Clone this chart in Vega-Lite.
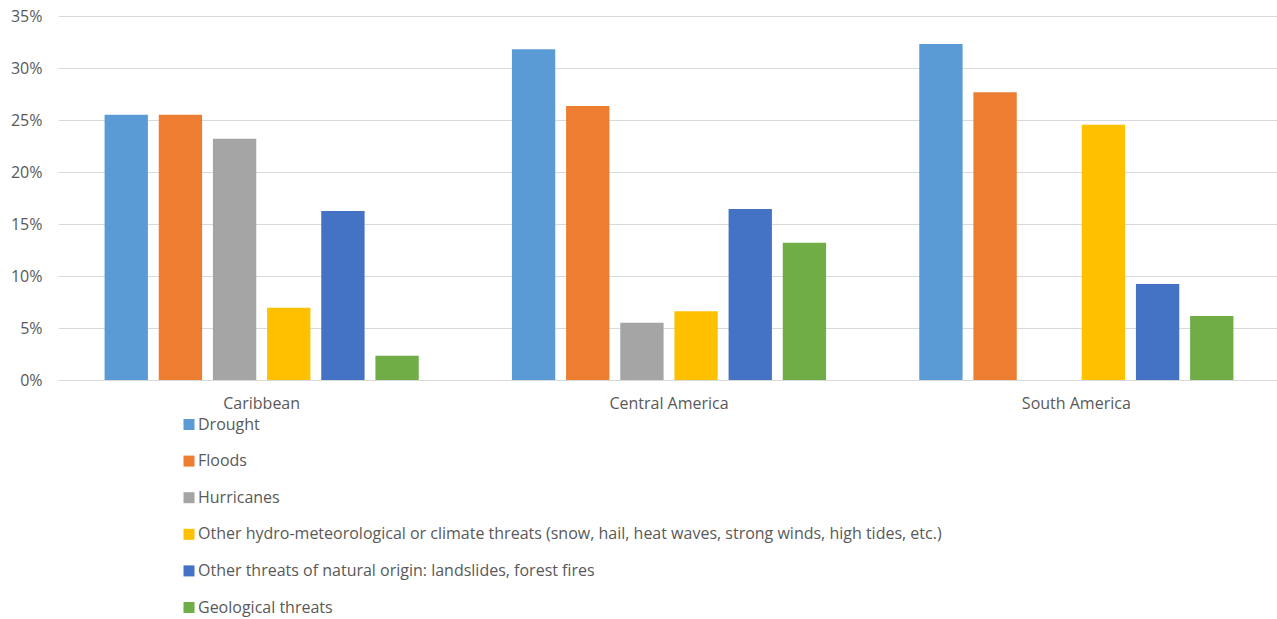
{
  "$schema": "https://vega.github.io/schema/vega-lite/v6.json",
  "autosize": "none",
  "width": 1222,
  "height": 364,
  "padding": {"left": 58, "top": 16, "right": 0, "bottom": 239},
  "background": "white",
  "config": {
    "view": {"stroke": null},
    "font": "Open Sans"
  },
  "data": {
    "values": [
      {"region": "Caribbean", "threat": "Drought", "value": 25.5},
      {"region": "Caribbean", "threat": "Floods", "value": 25.5},
      {"region": "Caribbean", "threat": "Hurricanes", "value": 23.2},
      {"region": "Caribbean", "threat": "Other hydro-meteorological or climate threats (snow, hail, heat waves, strong winds, high tides, etc.)", "value": 6.95},
      {"region": "Caribbean", "threat": "Other threats of natural origin: landslides, forest fires", "value": 16.25},
      {"region": "Caribbean", "threat": "Geological threats", "value": 2.34},
      {"region": "Central America", "threat": "Drought", "value": 31.8},
      {"region": "Central America", "threat": "Floods", "value": 26.35},
      {"region": "Central America", "threat": "Hurricanes", "value": 5.5},
      {"region": "Central America", "threat": "Other hydro-meteorological or climate threats (snow, hail, heat waves, strong winds, high tides, etc.)", "value": 6.6},
      {"region": "Central America", "threat": "Other threats of natural origin: landslides, forest fires", "value": 16.45},
      {"region": "Central America", "threat": "Geological threats", "value": 13.2},
      {"region": "South America", "threat": "Drought", "value": 32.3},
      {"region": "South America", "threat": "Floods", "value": 27.66},
      {"region": "South America", "threat": "Hurricanes", "value": 0},
      {"region": "South America", "threat": "Other hydro-meteorological or climate threats (snow, hail, heat waves, strong winds, high tides, etc.)", "value": 24.55},
      {"region": "South America", "threat": "Other threats of natural origin: landslides, forest fires", "value": 9.23},
      {"region": "South America", "threat": "Geological threats", "value": 6.15}
    ]
  },
  "mark": {"type": "bar"},
  "encoding": {
    "x": {
      "field": "region",
      "type": "nominal",
      "sort": null,
      "scale": {"paddingInner": 0, "paddingOuter": 0},
      "axis": {
        "title": null,
        "labelAngle": 0,
        "ticks": false,
        "domainColor": "#d9d9d9",
        "labelFontSize": 16,
        "labelColor": "#595959",
        "labelPadding": 15
      }
    },
    "xOffset": {
      "field": "threat",
      "type": "nominal",
      "sort": null,
      "scale": {"paddingInner": 0.2, "paddingOuter": 0.86}
    },
    "y": {
      "field": "value",
      "type": "quantitative",
      "scale": {"domain": [0, 35]},
      "axis": {
        "title": null,
        "values": [0, 5, 10, 15, 20, 25, 30, 35],
        "labelExpr": "datum.value + '%'",
        "domain": false,
        "ticks": false,
        "gridColor": "#d9d9d9",
        "labelFontSize": 16,
        "labelColor": "#595959",
        "labelPadding": 16
      }
    },
    "color": {
      "field": "threat",
      "type": "nominal",
      "sort": null,
      "scale": {
        "domain": ["Drought", "Floods", "Hurricanes", "Other hydro-meteorological or climate threats (snow, hail, heat waves, strong winds, high tides, etc.)", "Other threats of natural origin: landslides, forest fires", "Geological threats"],
        "range": ["#5B9BD5", "#ED7D31", "#A5A5A5", "#FFC000", "#4472C4", "#70AD47"]
      },
      "legend": {
        "title": null,
        "orient": "none",
        "legendX": 123,
        "legendY": 400.5,
        "direction": "vertical",
        "symbolType": "square",
        "symbolSize": 121,
        "symbolStrokeWidth": 0,
        "labelFontSize": 16,
        "labelColor": "#595959",
        "labelLimit": 1000,
        "rowPadding": 20.6,
        "labelOffset": 1
      }
    }
  }
}
